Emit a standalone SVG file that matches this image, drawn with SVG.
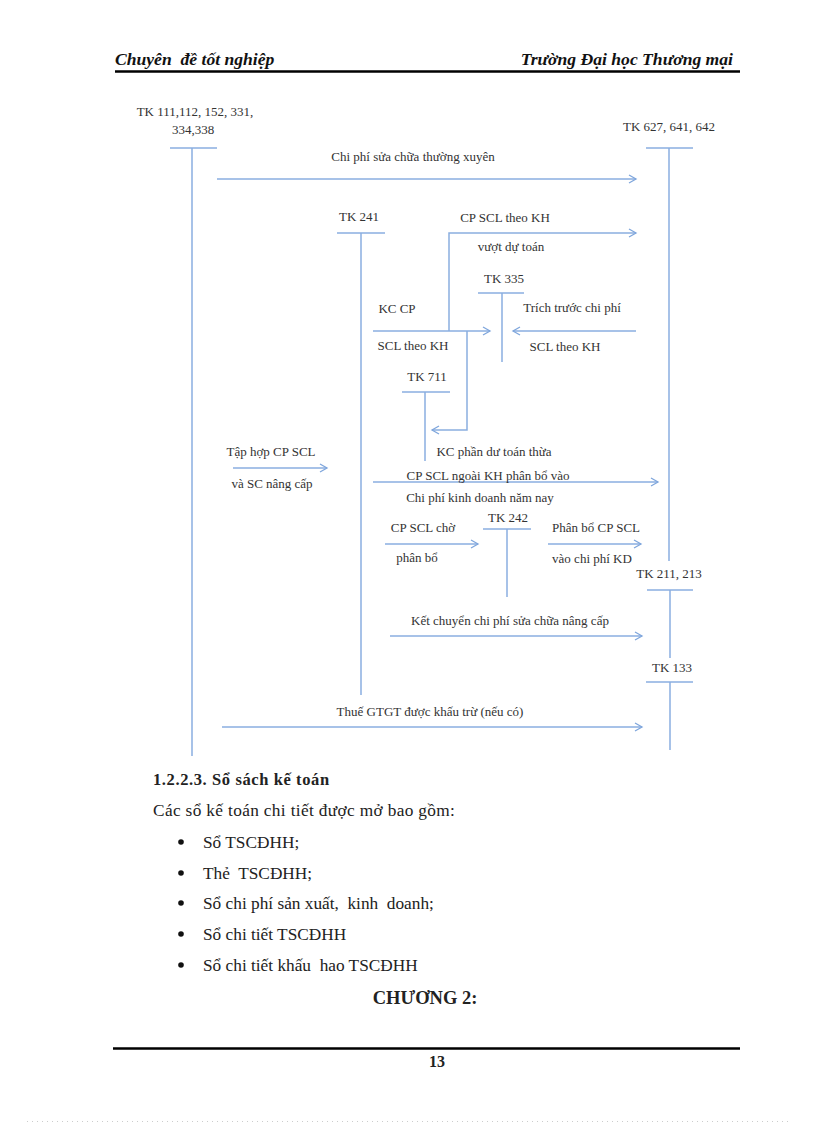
<svg xmlns="http://www.w3.org/2000/svg" width="816" height="1123" viewBox="0 0 816 1123" xml:space="preserve">
<defs>
<marker id="ah" markerWidth="10" markerHeight="10" refX="8" refY="5" orient="auto" markerUnits="userSpaceOnUse">
<path d="M1,1 L8,5 L1,9" fill="none" stroke="#7fa6dc" stroke-width="1.3"/>
</marker>
<style>
text{white-space:pre}
.ln{stroke:#8aaee0;stroke-width:1.5;fill:none}
.ar{stroke:#8aaee0;stroke-width:1.5;fill:none;marker-end:url(#ah)}
.lb{font-family:"Liberation Serif","DejaVu Serif",serif;font-size:13px;fill:#333}
.hd{font-family:"Liberation Serif","DejaVu Serif",serif;font-size:17.6px;font-style:italic;font-weight:bold;fill:#111}
.bt{font-family:"Liberation Serif","DejaVu Serif",serif;font-size:17.3px;fill:#222}
.bb{font-family:"Liberation Serif","DejaVu Serif",serif;font-size:16px;font-weight:bold;fill:#222}
</style>
</defs>
<rect width="816" height="1123" fill="#fff"/>
<!-- header -->
<g id="header">
<text class="hd" x="115" y="65">Chuyên  đề tốt nghiệp</text>
<text class="hd" x="733" y="65" text-anchor="end">Trường Đại học Thương mại</text>
<line x1="115" y1="71.5" x2="740" y2="71.5" stroke="#000" stroke-width="2.5"/>
</g>
<!-- accounts -->
<g id="tk111">
<text class="lb" x="195" y="116" text-anchor="middle">TK 111,112, 152, 331,</text>
<text class="lb" x="193" y="134" text-anchor="middle">334,338</text>
<line class="ln" x1="170" y1="148" x2="217" y2="148"/>
<line class="ln" x1="192" y1="148" x2="192" y2="756"/>
</g>
<g id="tk627">
<text class="lb" x="669" y="131" text-anchor="middle">TK 627, 641, 642</text>
<line class="ln" x1="646" y1="148" x2="693" y2="148"/>
<line class="ln" x1="669" y1="148" x2="669" y2="561"/>
</g>
<g id="tk241">
<text class="lb" x="359" y="221" text-anchor="middle">TK 241</text>
<line class="ln" x1="337" y1="233" x2="385" y2="233"/>
<line class="ln" x1="361" y1="233" x2="361" y2="695"/>
</g>
<g id="tk335">
<text class="lb" x="504" y="283" text-anchor="middle">TK 335</text>
<line class="ln" x1="478" y1="293" x2="524" y2="293"/>
<line class="ln" x1="502" y1="293" x2="502" y2="362"/>
</g>
<g id="tk711">
<text class="lb" x="427" y="381" text-anchor="middle">TK 711</text>
<line class="ln" x1="402" y1="392" x2="450" y2="392"/>
<line class="ln" x1="425" y1="392" x2="425" y2="461"/>
</g>
<g id="tk242">
<text class="lb" x="508" y="522" text-anchor="middle">TK 242</text>
<line class="ln" x1="483" y1="529" x2="531" y2="529"/>
<line class="ln" x1="507" y1="529" x2="507" y2="597"/>
</g>
<g id="tk211">
<text class="lb" x="669" y="578" text-anchor="middle">TK 211, 213</text>
<line class="ln" x1="647" y1="590" x2="693" y2="590"/>
<line class="ln" x1="670" y1="590" x2="670" y2="658"/>
</g>
<g id="tk133">
<text class="lb" x="672" y="672" text-anchor="middle">TK 133</text>
<line class="ln" x1="646" y1="682" x2="693" y2="682"/>
<line class="ln" x1="670" y1="682" x2="670" y2="750"/>
</g>
<!-- connectors -->
<g id="connectors">
<line class="ar" x1="217" y1="179" x2="636" y2="179"/>
<polyline class="ar" points="449,331 449,233 636,233"/>
<line class="ar" x1="373" y1="331" x2="490" y2="331"/>
<line class="ar" x1="636" y1="331" x2="513" y2="331"/>
<polyline class="ar" points="467,331 467,430 432,430"/>
<line class="ar" x1="233" y1="468" x2="327" y2="468"/>
<line class="ar" x1="373" y1="482" x2="658" y2="482"/>
<line class="ar" x1="385" y1="544" x2="478" y2="544"/>
<line class="ar" x1="548" y1="544" x2="641" y2="544"/>
<line class="ar" x1="390" y1="636" x2="642" y2="636"/>
<line class="ar" x1="222" y1="727" x2="642" y2="727"/>
</g>
<!-- connector labels -->
<g id="labels">
<text class="lb" x="413" y="161" text-anchor="middle">Chi phí sửa chữa thường xuyên</text>
<text class="lb" x="505" y="222" text-anchor="middle">CP SCL theo KH</text>
<text class="lb" x="511" y="251" text-anchor="middle">vượt dự toán</text>
<text class="lb" x="397" y="313" text-anchor="middle">KC CP</text>
<text class="lb" x="413" y="350" text-anchor="middle">SCL theo KH</text>
<text class="lb" x="572" y="312" text-anchor="middle">Trích trước chi phí</text>
<text class="lb" x="565" y="351" text-anchor="middle">SCL theo KH</text>
<text class="lb" x="494" y="456" text-anchor="middle">KC phần dư toán thừa</text>
<text class="lb" x="488" y="480" text-anchor="middle">CP SCL ngoài KH phân bổ vào</text>
<text class="lb" x="480" y="502" text-anchor="middle">Chi phí kinh doanh năm nay</text>
<text class="lb" x="271" y="456" text-anchor="middle">Tập hợp CP SCL</text>
<text class="lb" x="272" y="488" text-anchor="middle">và SC nâng cấp</text>
<text class="lb" x="423" y="532" text-anchor="middle">CP SCL chờ</text>
<text class="lb" x="417" y="562" text-anchor="middle">phân bổ</text>
<text class="lb" x="596" y="532" text-anchor="middle">Phân bổ CP SCL</text>
<text class="lb" x="592" y="563" text-anchor="middle">vào chi phí KD</text>
<text class="lb" x="510" y="625" text-anchor="middle">Kết chuyển chi phí sửa chữa nâng cấp</text>
<text class="lb" x="430" y="716" text-anchor="middle">Thuế GTGT được khấu trừ (nếu có)</text>
</g>
<!-- body text -->
<g id="body">
<text class="bb" x="153" y="785" style="font-size:16.5px;letter-spacing:0.6px">1.2.2.3. Sổ sách kế toán</text>
<text class="bt" x="153" y="816" style="letter-spacing:0.35px">Các sổ kế toán chi tiết được mở bao gồm:</text>
<circle cx="181" cy="842" r="2.8" fill="#111"/>
<circle cx="181" cy="873" r="2.8" fill="#111"/>
<circle cx="181" cy="903" r="2.8" fill="#111"/>
<circle cx="181" cy="934" r="2.8" fill="#111"/>
<circle cx="181" cy="965" r="2.8" fill="#111"/>
<text class="bt" x="203" y="848">Sổ TSCĐHH;</text>
<text class="bt" x="203" y="879">Thẻ  TSCĐHH;</text>
<text class="bt" x="203" y="909">Sổ chi phí sản xuất,  kinh  doanh;</text>
<text class="bt" x="203" y="940">Sổ chi tiết TSCĐHH</text>
<text class="bt" x="203" y="971">Sổ chi tiết khấu  hao TSCĐHH</text>
<text class="bb" x="425" y="1004" text-anchor="middle" style="font-size:18.5px">CHƯƠNG 2:</text>
</g>
<!-- footer -->
<g id="footer">
<line x1="113" y1="1048.5" x2="740" y2="1048.5" stroke="#000" stroke-width="2.5"/>
<text class="bb" x="437" y="1067" text-anchor="middle">13</text>
<line x1="27" y1="1121.5" x2="790" y2="1121.5" stroke="#ccc" stroke-width="1" stroke-dasharray="1,4"/>
</g>
</svg>
